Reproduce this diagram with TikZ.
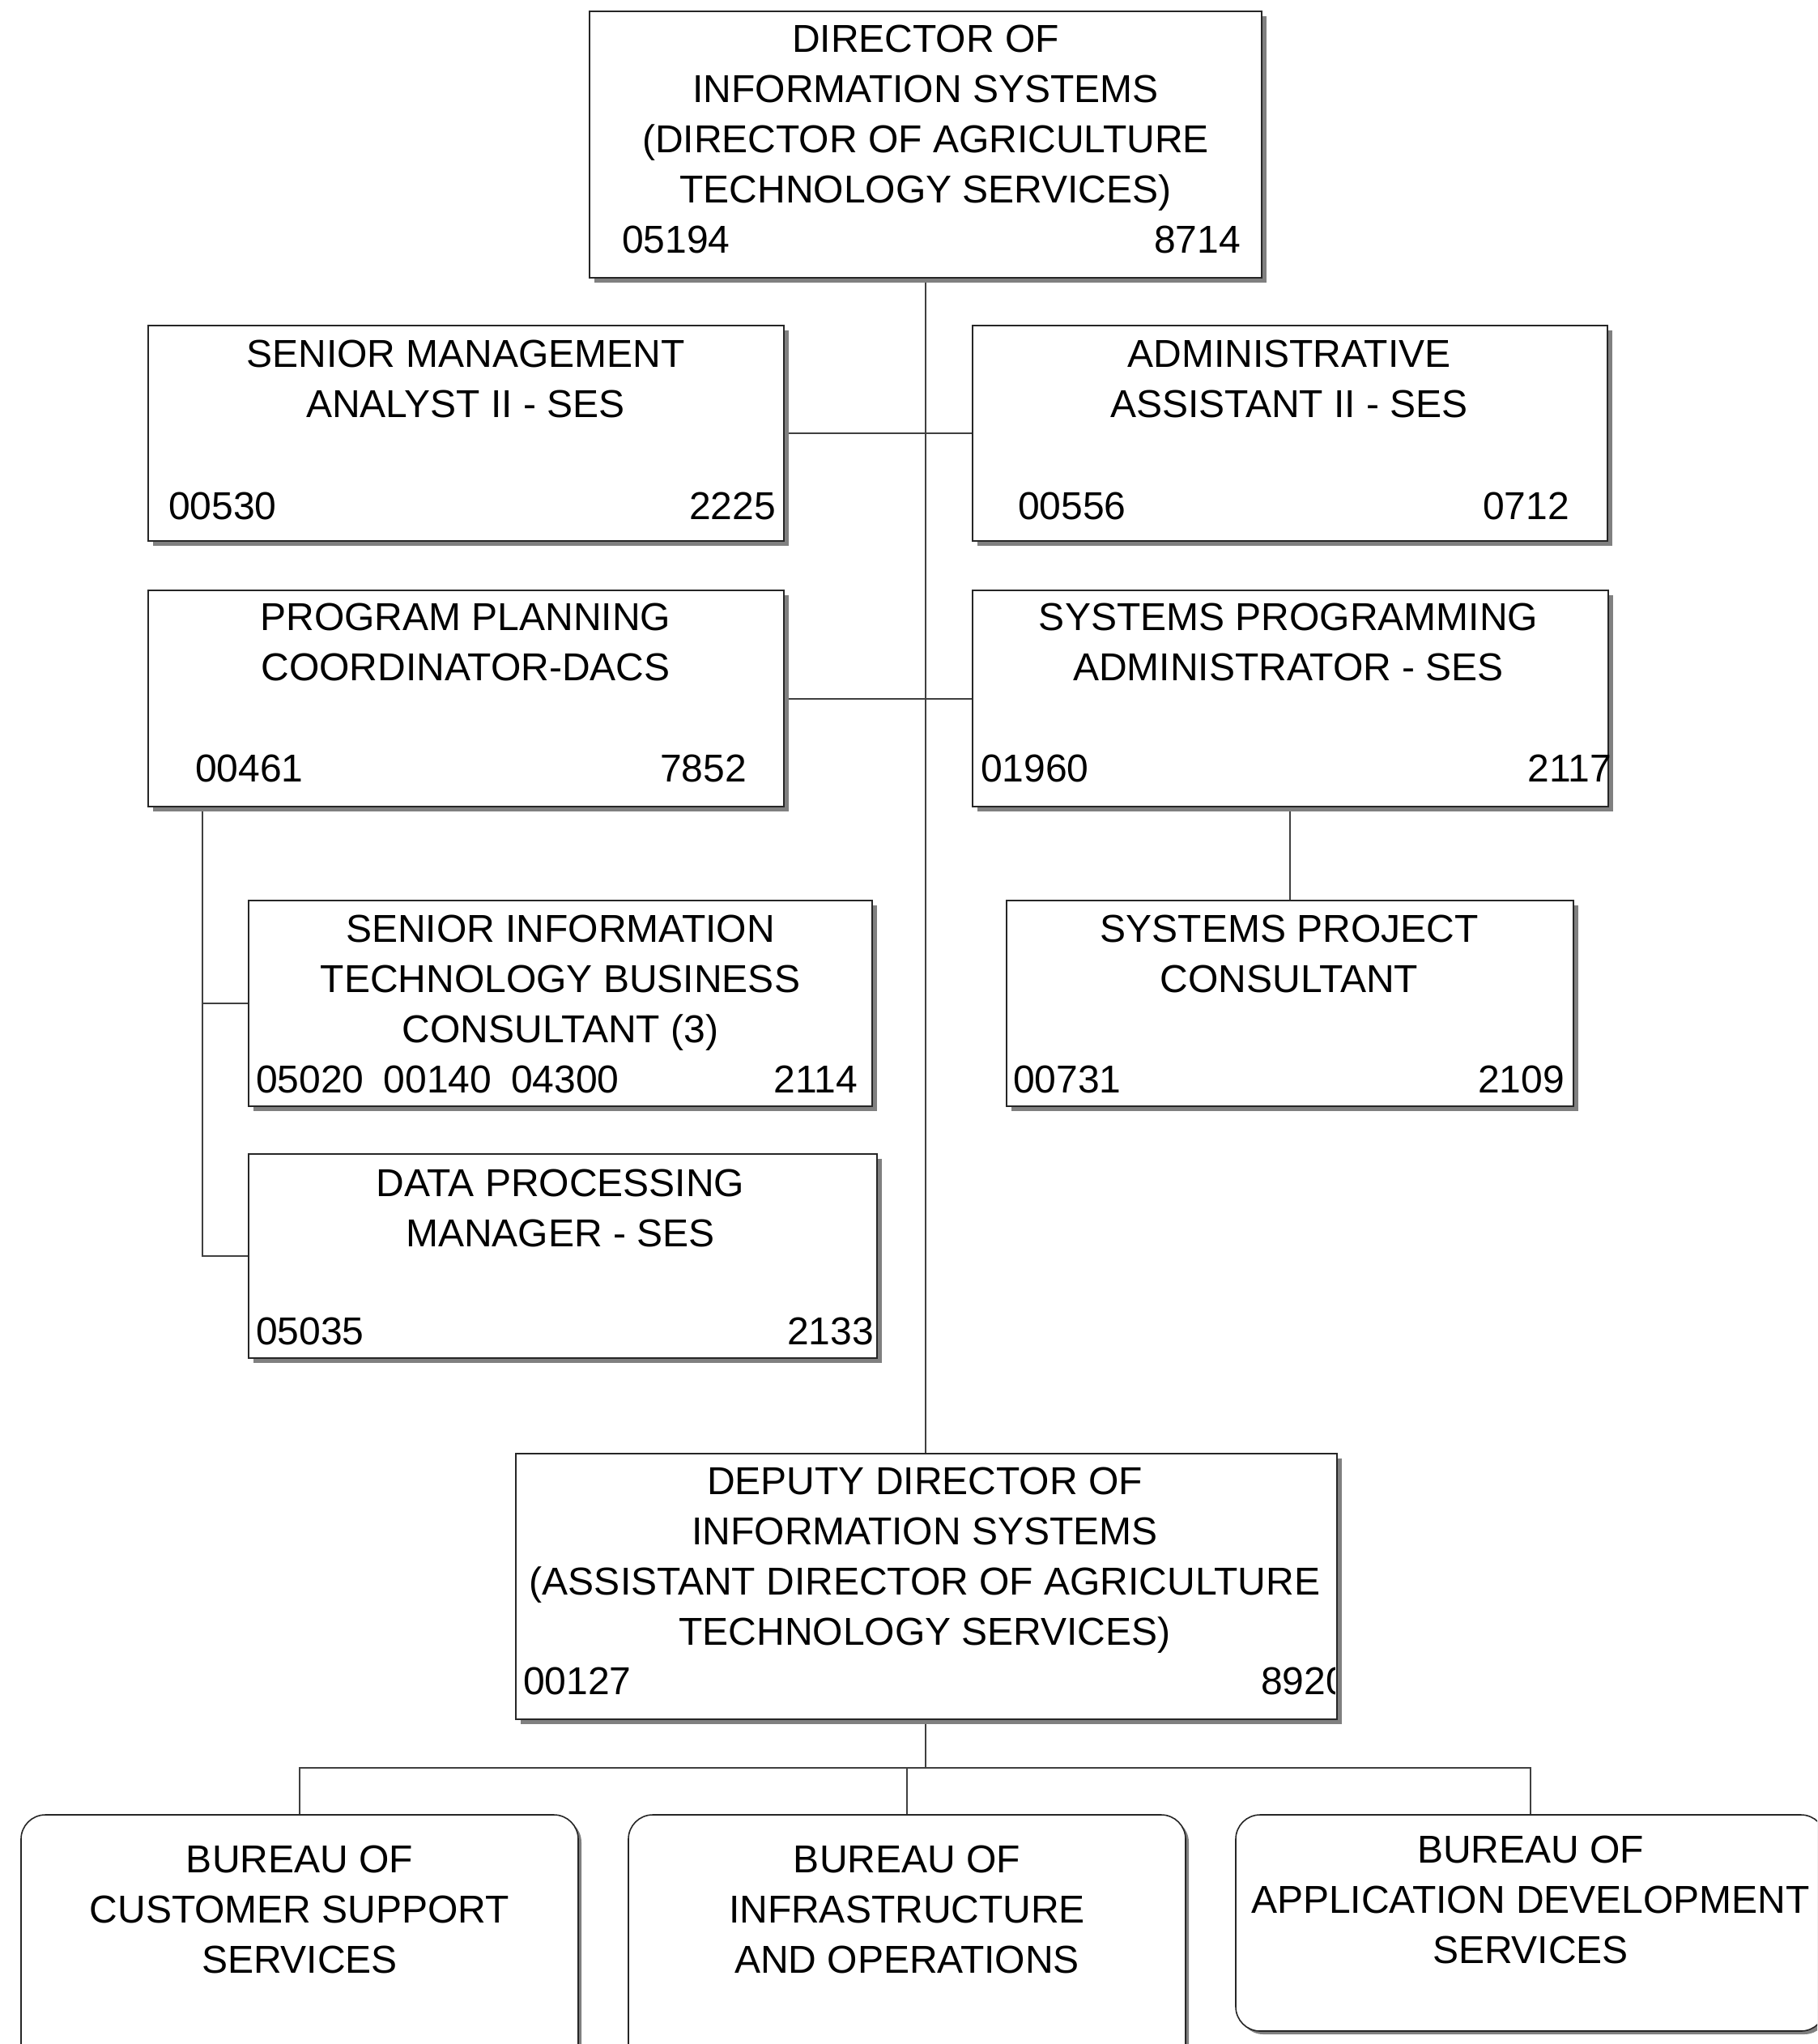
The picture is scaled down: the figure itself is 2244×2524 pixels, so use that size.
\documentclass[tikz,border=0pt]{standalone}
\usepackage{fontspec}
\setmainfont{Liberation Sans}
\usetikzlibrary{shadows,backgrounds}

% box given by its corners: style, name, x1, y1, x2, y2
\newcommand\placebox[6]{%
  \node[#1, minimum width={#5-#3}, minimum height={#6-#4}] (#2) at ({(#3+#5)/2},{(#4+#6)/2}) {};}
% centred title lines 62pt apart: name prefix, x, first baseline, lines
\newcommand\titlelines[4]{%
  \foreach \ln [count=\k from 0] in {#4} {\node[ttl] (#1\k) at (#2,{#3+62*\k}) {\ln};}}

\begin{document}
\begin{tikzpicture}[x=1pt,y=-1pt,
  post/.style={rectangle, draw=black!85, line width=2pt, fill=white, inner sep=0pt,
    drop shadow={shadow xshift=6pt, shadow yshift=-6pt, fill=black!50, opacity=1}},
  bureau/.style={rectangle, rounded corners=30pt, draw=black!85, line width=1.6pt, fill=white, inner sep=0pt,
    drop shadow={shadow xshift=4pt, shadow yshift=-4pt, fill=black!50, opacity=1}},
  txt/.style={inner sep=0pt, font=\fontsize{48}{62}\selectfont},
  ttl/.style={txt, anchor=base},
  numl/.style={txt, anchor=base west},
  numr/.style={txt, anchor=base east},
  link/.style={draw=black!75, line width=2pt}
]
\useasboundingbox (0,0) rectangle (2244,2524);
\clip (0,0) rectangle (2244,2524);

% position boxes
\placebox{post}{top}{728}{14}{1558}{343}
\placebox{post}{sma}{183}{402}{968}{668}
\placebox{post}{adm}{1201}{402}{1985}{668}
\placebox{post}{ppc}{183}{729}{968}{996}
\placebox{post}{spa}{1201}{729}{1986}{996}
\placebox{post}{sit}{307}{1112}{1077}{1366}
\placebox{post}{spc}{1243}{1112}{1943}{1366}
\placebox{post}{dpm}{307}{1425}{1083}{1677}
\placebox{post}{dep}{637}{1795}{1651}{2123}
\placebox{bureau}{bua}{26}{2241}{714}{2560}
\placebox{bureau}{bub}{776}{2241}{1464}{2560}
\placebox{bureau}{buc}{1526}{2241}{2254}{2508}

% routing points of the connectors
\coordinate (ppx) at (250,0);
\coordinate (bus) at (0,2183);

% connectors, kept underneath the boxes and their shadows
\begin{pgfonlayer}{background}
\draw[link] (top.south) -- (top.south |- dep.north);
\draw[link] (sma.east) -- (adm.west);
\draw[link] (ppc.east) -- (spa.west);
\draw[link] (ppc.south -| ppx) |- (dpm.west);
\draw[link] (ppx |- sit.west) -- (sit.west);
\draw[link] (spc.north |- spa.south) -- (spc.north);
\draw[link] (top.south |- dep.south) -- (top.south |- bus);
\draw[link] (bua.north) -- (bua.north |- bus) -- (buc.north |- bus) -- (buc.north);
\draw[link] (bub.north |- bus) -- (bub.north);
\end{pgfonlayer}

% texts
\titlelines{topt}{1143}{64}{DIRECTOR OF, INFORMATION SYSTEMS, {(DIRECTOR OF AGRICULTURE}, {TECHNOLOGY SERVICES)}}
\node[numl] (topl) at (768,312) {05194};
\node[numr] (topr) at (1532,312) {8714};

\titlelines{smat}{575}{453}{SENIOR MANAGEMENT, ANALYST II - SES}
\node[numl] (smal) at (208,641) {00530};
\node[numr] (smar) at (958,641) {2225};

\titlelines{admt}{1592}{453}{ADMINISTRATIVE, ASSISTANT II - SES}
\node[numl] (adml) at (1257,641) {00556};
\node[numr] (admr) at (1938,641) {0712};

\titlelines{ppct}{575}{778}{PROGRAM PLANNING, COORDINATOR-DACS}
\node[numl] (ppcl) at (241,965) {00461};
\node[numr] (ppcr) at (922,965) {7852};

\titlelines{spat}{1591}{778}{SYSTEMS PROGRAMMING, ADMINISTRATOR - SES}
\node[numl] (spal) at (1211,965) {01960};
\node[numr] (spar) at (1990,965) {2117};

\titlelines{sitt}{692}{1163}{SENIOR INFORMATION, TECHNOLOGY BUSINESS, {CONSULTANT (3)}}
\node[numl] (sitl) at (316,1349) {05020\hspace{24pt}00140\hspace{24pt}04300};
\node[numr] (sitr) at (1059,1349) {2114};

\titlelines{spct}{1592}{1163}{SYSTEMS PROJECT, CONSULTANT}
\node[numl] (spcl) at (1251,1349) {00731};
\node[numr] (spcr) at (1932,1349) {2109};

\titlelines{dpmt}{692}{1477}{DATA PROCESSING, MANAGER - SES}
\node[numl] (dpml) at (316,1660) {05035};
\node[numr] (dpmr) at (1079,1660) {2133};

\titlelines{dept}{1142}{1845}{DEPUTY DIRECTOR OF, INFORMATION SYSTEMS, {(ASSISTANT DIRECTOR OF AGRICULTURE}, {TECHNOLOGY SERVICES)}}
\node[numl] (depl) at (646,2092) {00127};
\begin{scope}
  \clip (dep.south west) rectangle (1648,1795);
  \node[numl] (depr) at (1557,2092) {8920};
\end{scope}

\titlelines{buat}{370}{2312}{BUREAU OF, CUSTOMER SUPPORT, SERVICES}
\titlelines{bubt}{1120}{2312}{BUREAU OF, INFRASTRUCTURE, AND OPERATIONS}
\titlelines{buct}{1890}{2300}{BUREAU OF, APPLICATION DEVELOPMENT, SERVICES}
\end{tikzpicture}
\end{document}
